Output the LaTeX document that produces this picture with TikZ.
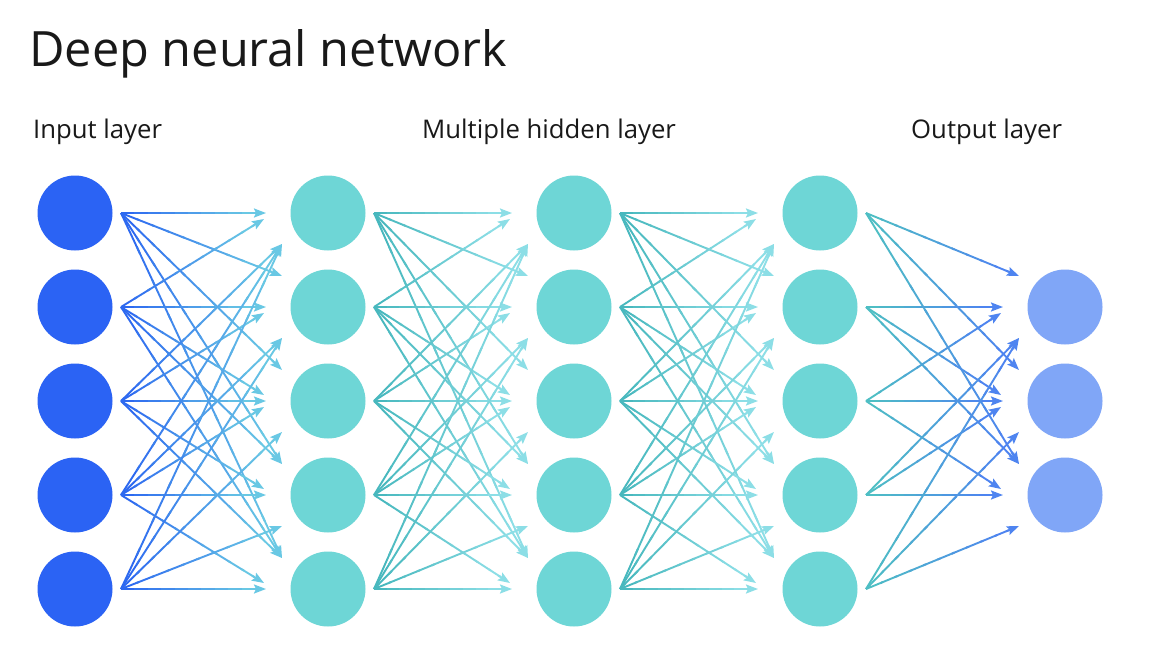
\documentclass[tikz,border=0pt]{standalone}
\usepackage{fontspec}
\setmainfont{Open Sans}
\usetikzlibrary{arrows.meta,calc}
\definecolor{inC}{RGB}{43,99,244}
\definecolor{hidC}{RGB}{110,214,214}
\definecolor{outC}{RGB}{128,166,247}
\definecolor{aInS}{RGB}{45,105,240}
\definecolor{aInE}{RGB}{105,200,228}
\definecolor{aHS}{RGB}{72,184,190}
\definecolor{aHE}{RGB}{140,222,230}
\definecolor{aOS}{RGB}{78,190,196}
\definecolor{aOE}{RGB}{78,132,240}
\newcommand\gradarrow[4]{%
  \coordinate (gS) at (#1);
  \coordinate (gE) at (#2);
  \coordinate (gT) at ($(gE)!11pt!(gS)$);
  \foreach \k in {0,...,9}{
    \pgfmathsetmacro\pa{\k/10}
    \pgfmathsetmacro\pb{min(1,(\k+1)/10+0.02)}
    \pgfmathtruncatemacro\pc{100-\k*100/9}
    \draw[wire,color=#3!\pc!#4] ($(gS)!\pa!(gT)$) -- ($(gS)!\pb!(gT)$);
  }
  \draw[wire,tipped,color=#4] ($(gE)!14pt!(gS)$) -- (gE);
}
\begin{document}
\begin{tikzpicture}[x=1pt,y=-1pt,
  neuron/.style={circle,minimum size=75pt,inner sep=0pt,draw=none},
  wire/.style={line width=1.9pt,line cap=butt},
  tipped/.style={-{Stealth[length=12pt,width=9pt,inset=2pt]}},
  lbl/.style={anchor=base west,inner sep=0pt,font=\fontsize{25.7}{25.7}\selectfont,text=black!90},
  ttl/.style={anchor=base west,inner sep=0pt,font=\fontsize{48.7}{48.7}\selectfont,text=black!90}]
\fill[white] (0,0) rectangle (1162,656);
\useasboundingbox (0,0) rectangle (1162,656);
\node[ttl] (title) at (29,66) {Deep neural network};
\node[lbl] (lin) at (33,138) {Input layer};
\node[lbl] (lhid) at (422,138) {Multiple hidden layer};
\node[lbl] (lout) at (911,138) {Output layer};
\foreach \j in {1,...,5}{
  \node[neuron,fill=inC] (n0-\j) at (75,{213+94*(\j-1)}) {};
  \node[neuron,fill=hidC] (n1-\j) at (328,{213+94*(\j-1)}) {};
  \node[neuron,fill=hidC] (n2-\j) at (574,{213+94*(\j-1)}) {};
  \node[neuron,fill=hidC] (n3-\j) at (820,{213+94*(\j-1)}) {};
}
\foreach \j in {1,2,3}{
  \node[neuron,fill=outC] (n4-\j) at (1065,{213+94*\j}) {};
}
\foreach \L/\Lm/\cs/\ce/\nt in {1/0/aInS/aInE/5, 2/1/aHS/aHE/5, 3/2/aHS/aHE/5, 4/3/aOS/aOE/3}{
  \foreach \i in {1,...,5}{
    \foreach \j in {1,...,\nt}{
      \pgfmathtruncatemacro\rr{\nt==3 ? \j+1 : \j}
      \pgfmathtruncatemacro\dd{\i-\rr}
      \pgfmathtruncatemacro\inn{((\dd==-1) && (\rr>=3)) || ((\dd==1) && (\rr<=3))}
      \pgfmathsetmacro\ddx{\dd==0 ? -62 : (\inn==1 ? -64 : -46)}
      \pgfmathsetmacro\ddy{\dd==0 ? 0 : (\dd<0 ? (\inn==1 ? -6 : -31) : (\inn==1 ? 6 : 31))}
      \coordinate (src) at ($(n\Lm-\i.center)+(46,0)$);
      \coordinate (dst) at ($(n\L-\j.center)+(\ddx,\ddy)$);
      \gradarrow{src}{dst}{\cs}{\ce}
    }
  }
}
\end{tikzpicture}
\end{document}
